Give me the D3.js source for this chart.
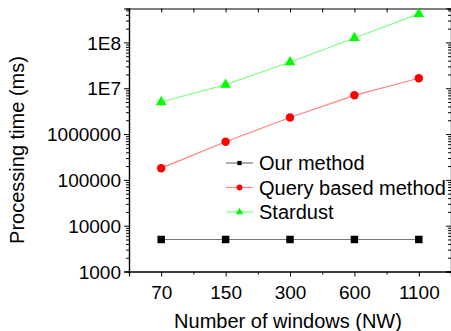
<!DOCTYPE html>
<html>
<head>
<meta charset="utf-8">
<script src="https://cdn.jsdelivr.net/npm/d3@7"></script>
<style>
  html, body { margin: 0; padding: 0; background: #fff; }
  svg { display: block; font-family: "Liberation Sans", Arial, sans-serif; }
</style>
</head>
<body>
<div id="chart"></div>
<script>
// values
const windows = ["70", "150", "300", "600", "1100"];
const ourMethod = [5000, 5000, 5000, 5000, 5000];
const queryBased = [180000, 680000, 2300000, 7000000, 16500000];
const stardust = [5000000, 12000000, 37000000, 125000000, 420000000];
const yTicks = [1e3, 1e4, 1e5, 1e6, 1e7, 1e8];
const yTickLabels = ["1000", "10000", "100000", "1000000", "1E7", "1E8"];

const width = 451, height = 331;
const plotLeft = 129, plotRight = 451, plotTop = 8.5, plotBottom = 271.5;

const svg = d3.select('#chart').append('svg')
    .attr('width', width)
    .attr('height', height);

const x = d3.scaleLinear().domain([0.5, windows.length + 0.5]).range([plotLeft, plotRight]);
const y = d3.scaleLog().domain([1e3, 5.5e8]).range([plotBottom, plotTop]);

// minor ticks (2..9 per decade)
const minorY = [];
for (let e = 3; e <= 8; e++) {
    for (let m = 2; m <= 9; m++) {
        const v = m * Math.pow(10, e);
        if (v <= y.domain()[1]) minorY.push(v);
    }
}
const idx = windows.map((d, i) => i + 1);
const halfIdx = d3.range(1.5, windows.length, 1);

// left axis (ticks out)
const leftAxis = svg.append('g').attr('transform', `translate(${plotLeft},0)`)
    .call(d3.axisLeft(y).tickValues(yTicks).tickSize(5).tickPadding(3)
        .tickFormat((d, i) => yTickLabels[i]));
svg.append('g').attr('transform', `translate(${plotLeft},0)`)
    .call(d3.axisLeft(y).tickValues(minorY).tickSize(3).tickFormat(''));

// right axis (ticks in)
svg.append('g').attr('transform', `translate(${plotRight},0)`)
    .call(d3.axisRight(y).tickValues(yTicks).tickSize(-5).tickFormat(''));
svg.append('g').attr('transform', `translate(${plotRight},0)`)
    .call(d3.axisRight(y).tickValues(minorY).tickSize(-3).tickFormat(''));

// bottom axis (ticks out)
svg.append('g').attr('transform', `translate(0,${plotBottom})`)
    .call(d3.axisBottom(x).tickValues(idx).tickSize(5).tickPadding(9)
        .tickFormat((d, i) => windows[i]));
svg.append('g').attr('transform', `translate(0,${plotBottom})`)
    .call(d3.axisBottom(x).tickValues(halfIdx).tickSize(3).tickFormat(''));

// top axis (ticks in)
svg.append('g').attr('transform', `translate(0,${plotTop})`)
    .call(d3.axisTop(x).tickValues(idx.concat(halfIdx)).tickSize(-4).tickFormat(''));

svg.selectAll('.domain').attr('stroke', '#000').attr('stroke-width', 1.2);
svg.selectAll('.tick line').attr('stroke', '#000');
svg.selectAll('.tick text').attr('font-size', '19px').attr('fill', '#000')
    .attr('font-family', '"Liberation Sans", Arial, sans-serif');
leftAxis.selectAll('.tick text').attr('dy', '0.35em');

// axis titles
svg.append('text')
    .attr('x', (plotLeft + plotRight) / 2 - 2)
    .attr('y', 328)
    .attr('text-anchor', 'middle')
    .attr('font-size', '20px')
    .text('Number of windows (NW)');

svg.append('text')
    .attr('transform', `translate(24,150) rotate(-90)`)
    .attr('text-anchor', 'middle')
    .attr('font-size', '20px')
    .text('Processing time (ms)');

const series = [
    { name: 'Our method', values: ourMethod, color: '#000', line: '#777', shape: d3.symbolSquare, size: 56, legSize: 18 },
    { name: 'Query based method', values: queryBased, color: '#ff0000', line: '#ff8080', shape: d3.symbolCircle, size: 56, legSize: 26 },
    { name: 'Stardust', values: stardust, color: '#00ff00', line: '#80ff80', shape: d3.symbolTriangle, size: 50, legSize: 24 }
];

const line = d3.line().x((d, i) => x(i + 1)).y(d => y(d));

series.forEach(s => {
    svg.append('path')
        .datum(s.values)
        .attr('d', line)
        .attr('fill', 'none')
        .attr('stroke', s.line)
        .attr('stroke-width', 1.2);
    svg.selectAll(null)
        .data(s.values)
        .enter().append('path')
        .attr('transform', (d, i) => `translate(${x(i + 1)},${y(d)})`)
        .attr('d', d3.symbol().type(s.shape).size(s.size))
        .attr('fill', s.color);
});

// legend
const legend = svg.append('g');
series.forEach((s, i) => {
    const ly = 163 + i * 24.5;
    legend.append('line')
        .attr('x1', 226).attr('x2', 253)
        .attr('y1', ly).attr('y2', ly)
        .attr('stroke', s.line).attr('stroke-width', 1.2);
    legend.append('path')
        .attr('transform', `translate(239.5,${ly})`)
        .attr('d', d3.symbol().type(s.shape).size(s.legSize))
        .attr('fill', s.color);
    legend.append('text')
        .attr('x', 259)
        .attr('y', ly)
        .attr('dy', '0.35em')
        .attr('font-size', '20px')
        .text(s.name);
});
</script>
</body>
</html>
